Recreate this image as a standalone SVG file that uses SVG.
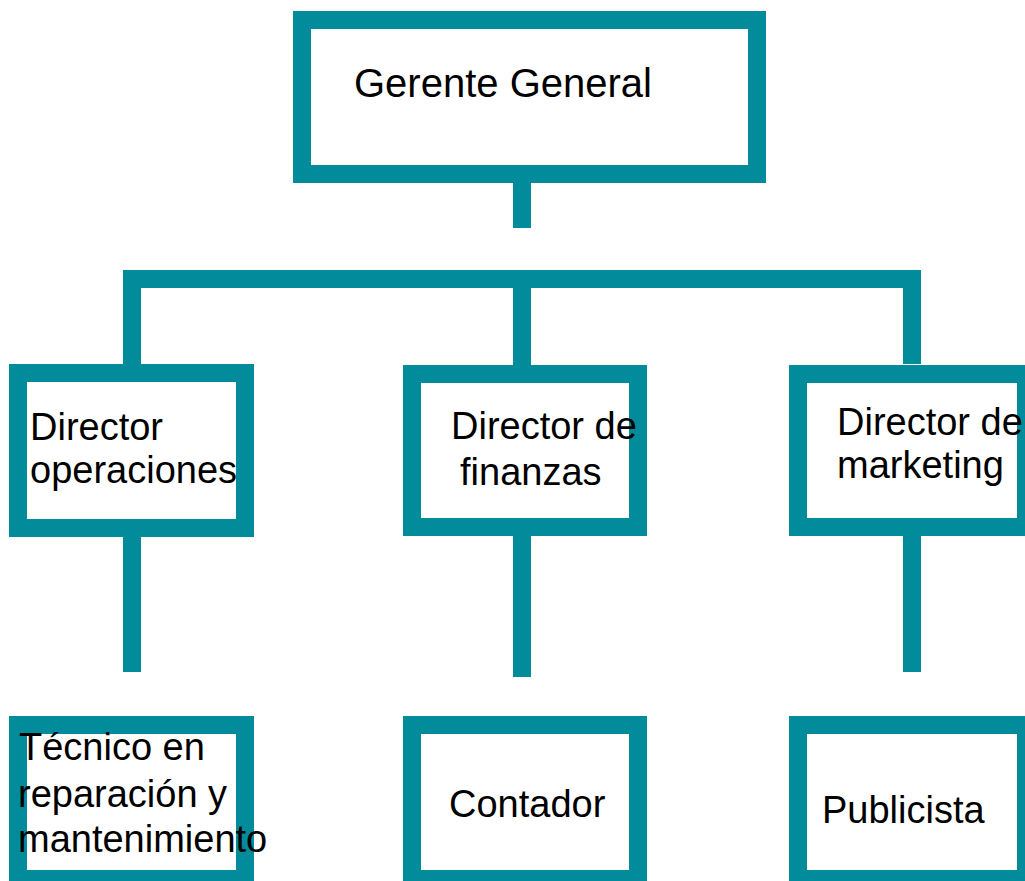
<svg xmlns="http://www.w3.org/2000/svg" width="1025" height="881" viewBox="0 0 1025 881">
<style>
.box{fill:#ffffff;stroke:#028B9A;stroke-width:18}
.conn{fill:none;stroke:#028B9A;stroke-width:18;stroke-linejoin:miter;stroke-linecap:butt}
text{font-family:"Liberation Sans",Arial,sans-serif;font-size:38px;fill:#000000}
</style>
<rect width="1025" height="881" fill="#ffffff"/>
<g id="connectors">
<path class="conn" d="M522,183 V228"/>
<path class="conn" d="M132,364 V279 H912 V364"/>
<path class="conn" d="M522,279 V365"/>
<path class="conn" d="M132,537 V672"/>
<path class="conn" d="M522,536 V677"/>
<path class="conn" d="M912,536 V672"/>
</g>
<g id="gerente">
<rect class="box" x="302" y="20" width="455" height="154"/>
<text x="354" y="97" style="font-size:40px">Gerente General</text>
</g>
<g id="dir-operaciones">
<rect class="box" x="18" y="373" width="227" height="155"/>
<text x="30" y="440">Director</text>
<text x="30" y="483">operaciones</text>
</g>
<g id="dir-finanzas">
<rect class="box" x="412" y="374" width="226" height="153"/>
<text x="451" y="439">Director de</text>
<text x="460" y="485">finanzas</text>
</g>
<g id="dir-marketing">
<rect class="box" x="798" y="374" width="228" height="153"/>
<text x="837" y="435">Director de</text>
<text x="837" y="478">marketing</text>
</g>
<g id="tecnico">
<rect class="box" x="18" y="725" width="227" height="154"/>
<text x="19" y="760">Técnico en</text>
<text x="18" y="807">reparación y</text>
<text x="18" y="852">mantenimiento</text>
</g>
<g id="contador">
<rect class="box" x="412" y="725" width="226" height="154"/>
<text x="449" y="817">Contador</text>
</g>
<g id="publicista">
<rect class="box" x="798" y="725" width="228" height="154"/>
<text x="822" y="823">Publicista</text>
</g>
</svg>
